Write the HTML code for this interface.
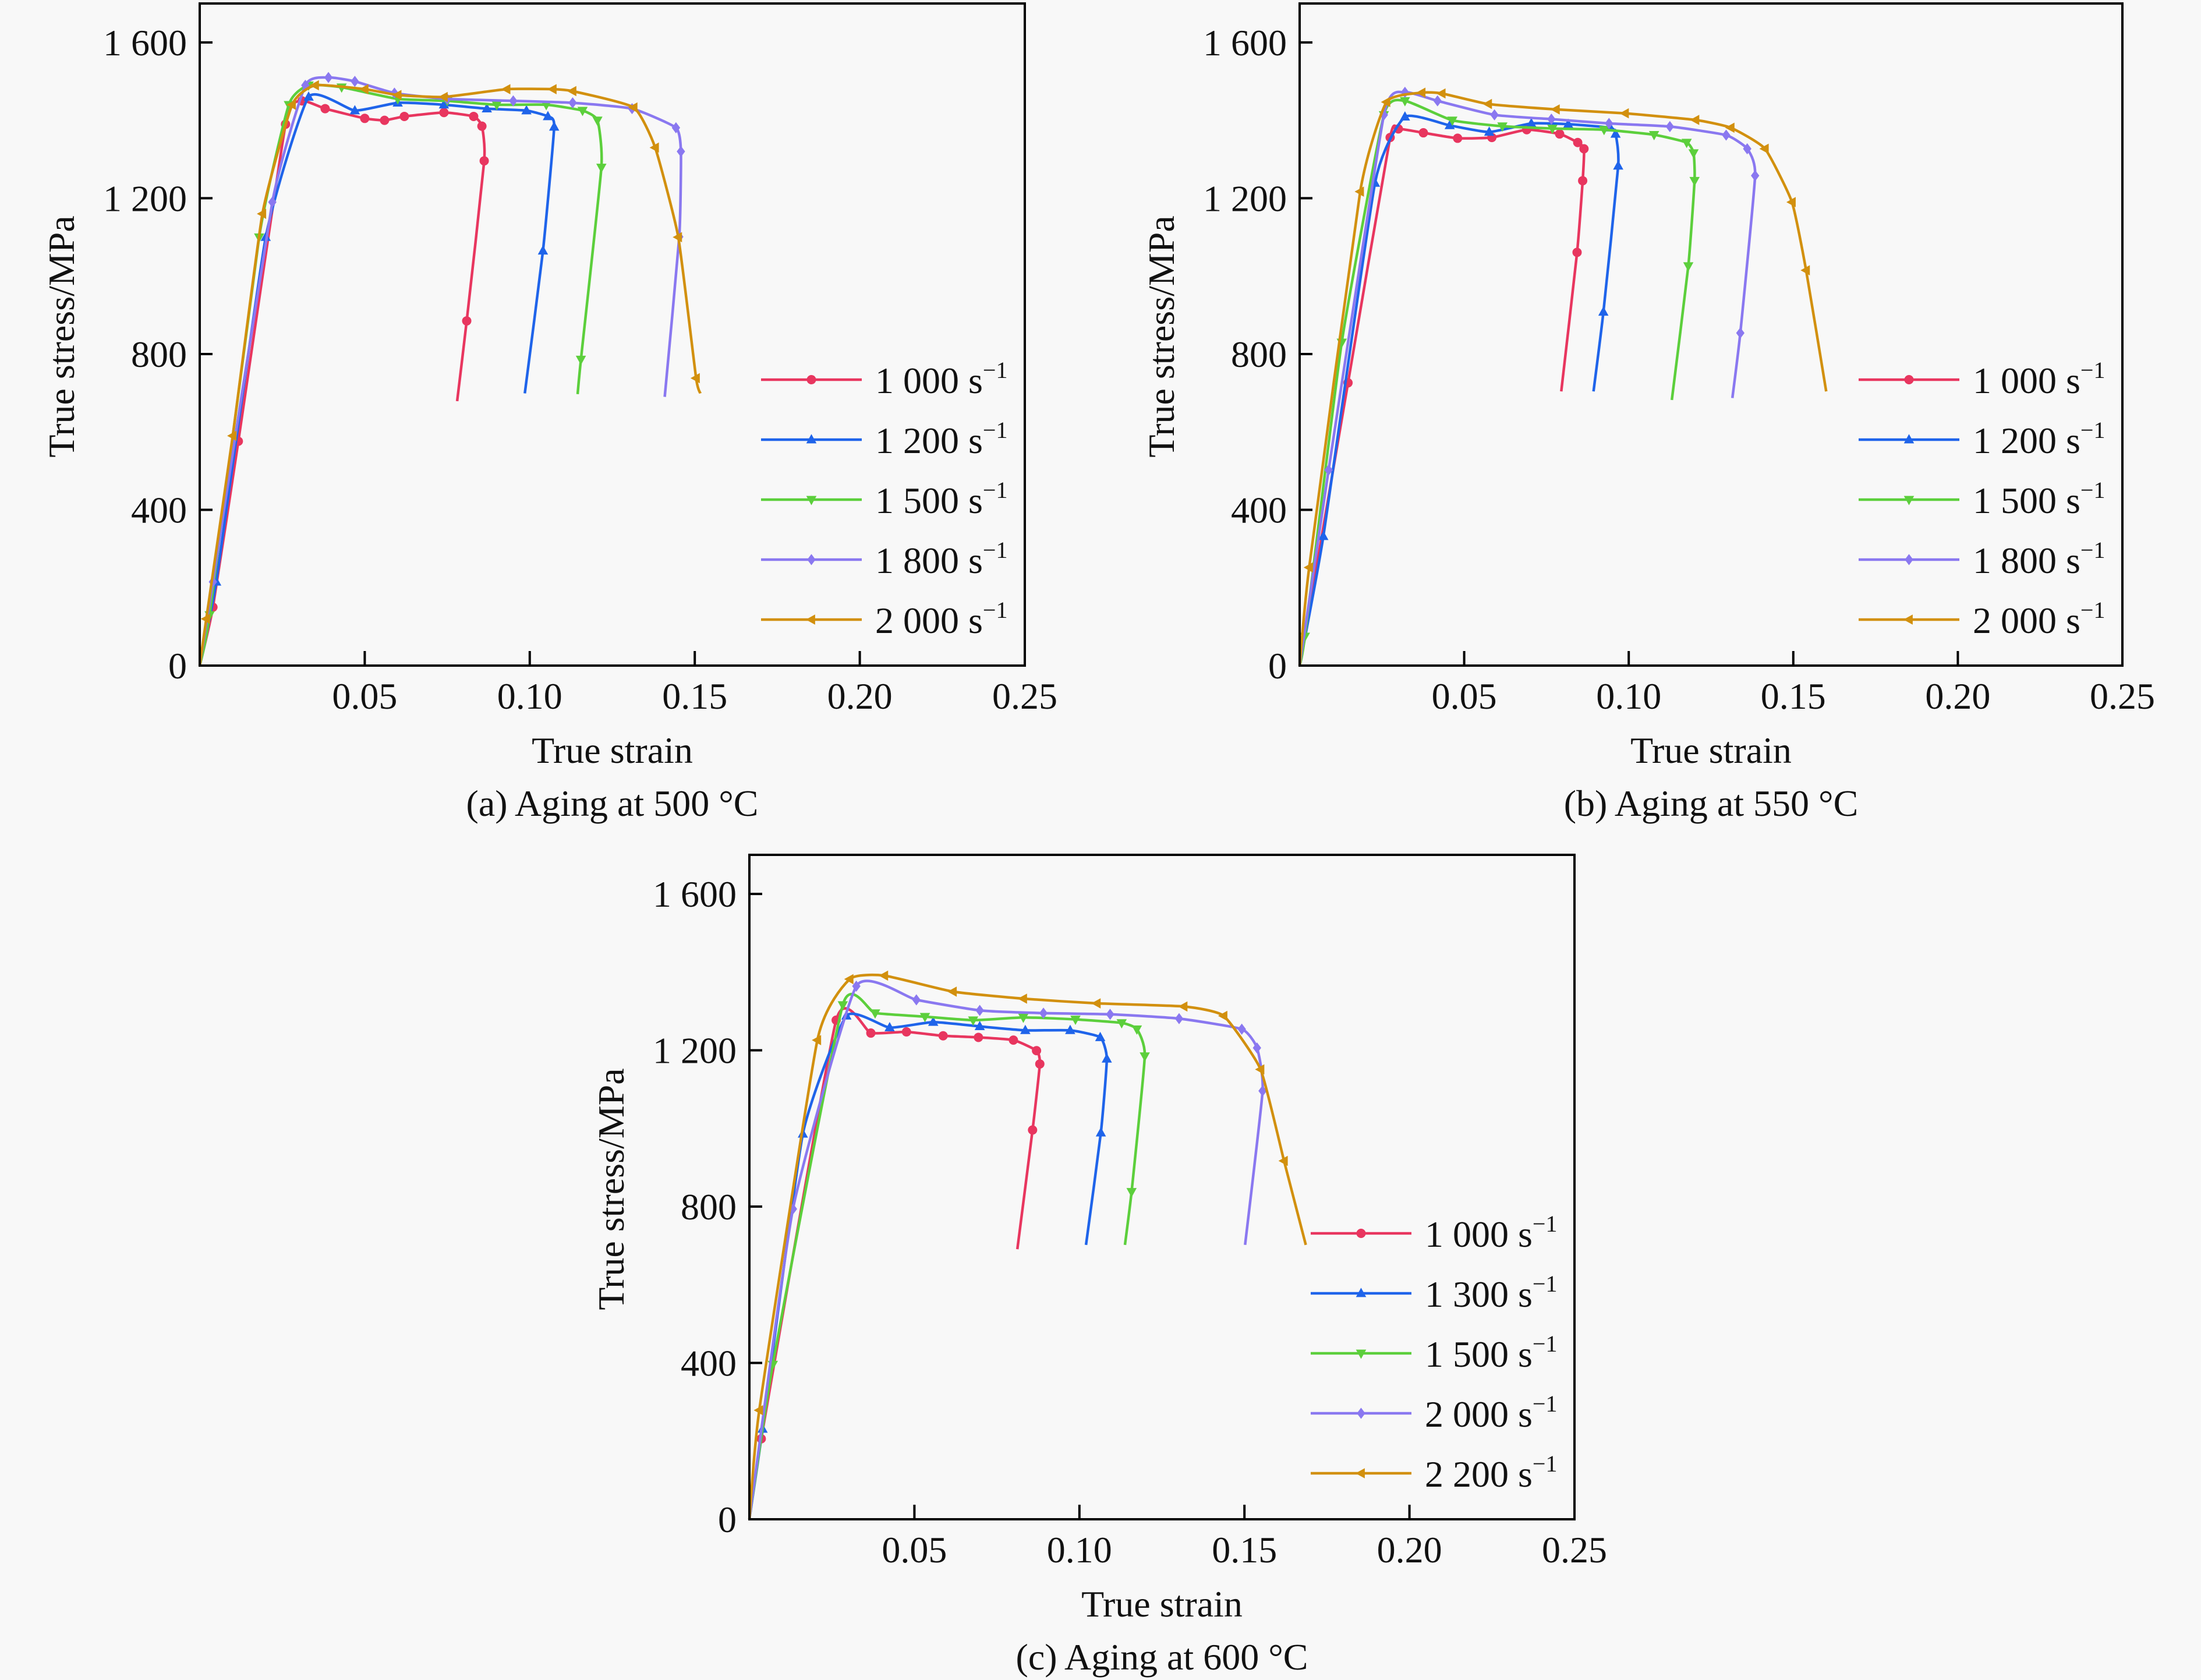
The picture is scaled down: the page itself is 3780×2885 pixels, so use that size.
<!DOCTYPE html>
<html><head><meta charset="utf-8">
<style>
html,body{margin:0;padding:0;background:#f8f8f8;}
svg{display:block;font-family:"Liberation Serif","DejaVu Serif",serif;}
</style></head>
<body>
<svg id="fig" width="3780" height="2885" viewBox="0 0 3780 2885" xmlns="http://www.w3.org/2000/svg">
<rect width="3780" height="2885" fill="#f8f8f8"/>
</svg>
<script>
// shared axis data
const xTicks = [0.05, 0.10, 0.15, 0.20, 0.25];
const xTickLabels = ["0.05", "0.10", "0.15", "0.20", "0.25"];
const yTicks = [0, 400, 800, 1200, 1600];
const yTickLabels = ["0", "400", "800", "1 200", "1 600"];

// Panel (a) Aging at 500 °C
const aRates = ["1 000", "1 200", "1 500", "1 800", "2 000"];
const aStrain1000 = [0, 0.004, 0.0117, 0.026, 0.031, 0.038, 0.050, 0.056, 0.062, 0.074, 0.083, 0.0855, 0.0862, 0.0809, 0.078];
const aStress1000 = [0, 150, 576, 1390, 1450, 1430, 1405, 1400, 1410, 1420, 1410, 1385, 1296, 885, 679];
const aStrain1200 = [0, 0.005, 0.020, 0.033, 0.047, 0.060, 0.074, 0.087, 0.099, 0.1055, 0.1074, 0.104, 0.0985];
const aStress1200 = [0, 215, 1100, 1460, 1425, 1445, 1440, 1430, 1425, 1410, 1383, 1065, 699];
const aStrain1500 = [0, 0.003, 0.018, 0.027, 0.033, 0.043, 0.060, 0.075, 0.090, 0.105, 0.116, 0.1205, 0.1217, 0.1155, 0.1145];
const aStress1500 = [0, 130, 1100, 1440, 1490, 1485, 1455, 1450, 1440, 1440, 1425, 1400, 1279, 786, 697];
const aStrain1800 = [0, 0.004, 0.022, 0.032, 0.039, 0.047, 0.059, 0.075, 0.095, 0.113, 0.131, 0.1443, 0.1458, 0.1453, 0.1409];
const aStress1800 = [0, 215, 1190, 1490, 1510, 1500, 1470, 1455, 1450, 1445, 1430, 1381, 1320, 1101, 690];
const aStrain2000 = [0, 0.002, 0.010, 0.019, 0.028, 0.035, 0.050, 0.060, 0.074, 0.093, 0.107, 0.113, 0.1315, 0.138, 0.145, 0.1504, 0.1517];
const aStress2000 = [0, 120, 590, 1160, 1440, 1490, 1480, 1465, 1460, 1480, 1480, 1475, 1433, 1330, 1100, 738, 699];

// Panel (b) Aging at 550 °C
const bRates = ["1 000", "1 200", "1 500", "1 800", "2 000"];
const bStrain1000 = [0, 0.0147, 0.0275, 0.030, 0.0376, 0.048, 0.0584, 0.069, 0.079, 0.0845, 0.0864, 0.086, 0.0843, 0.0795];
const bStress1000 = [0, 726, 1356, 1378, 1368, 1354, 1356, 1376, 1365, 1343, 1327, 1245, 1061, 704];
const bStrain1200 = [0, 0.0072, 0.0229, 0.032, 0.0456, 0.0576, 0.0704, 0.0816, 0.0944, 0.096, 0.0968, 0.0923, 0.0893];
const bStress1200 = [0, 332, 1239, 1409, 1387, 1370, 1392, 1390, 1381, 1365, 1283, 908, 704];
const bStrain1500 = [0, 0.0016, 0.0128, 0.0256, 0.032, 0.0464, 0.0616, 0.0768, 0.0925, 0.1077, 0.1176, 0.1197, 0.120, 0.1181, 0.1131];
const bStress1500 = [0, 75, 830, 1414, 1450, 1400, 1385, 1379, 1376, 1363, 1343, 1316, 1245, 1026, 682];
const bStrain1800 = [0, 0.0088, 0.0256, 0.032, 0.0419, 0.0592, 0.0765, 0.094, 0.1125, 0.1296, 0.136, 0.1384, 0.1339, 0.1315];
const bStress1800 = [0, 502, 1414, 1472, 1450, 1414, 1403, 1392, 1384, 1362, 1327, 1258, 854, 687];
const bStrain2000 = [0, 0.0029, 0.0184, 0.0264, 0.0371, 0.0432, 0.0573, 0.0779, 0.0989, 0.1203, 0.131, 0.1414, 0.1496, 0.1539, 0.160];
const bStress2000 = [0, 252, 1217, 1447, 1471, 1469, 1442, 1428, 1418, 1401, 1381, 1327, 1190, 1015, 704];

// Panel (c) Aging at 600 °C
const cRates = ["1 000", "1 300", "1 500", "2 000", "2 200"];
const cStrain1000 = [0, 0.0036, 0.0263, 0.0368, 0.0476, 0.0587, 0.0694, 0.080, 0.087, 0.088, 0.0858, 0.0812];
const cStress1000 = [0, 206, 1277, 1244, 1247, 1237, 1233, 1226, 1199, 1165, 996, 691];
const cStrain1300 = [0, 0.004, 0.0162, 0.0294, 0.0425, 0.0557, 0.0698, 0.0836, 0.0972, 0.1063, 0.1083, 0.1065, 0.102];
const cStress1300 = [0, 231, 986, 1288, 1258, 1272, 1261, 1251, 1251, 1233, 1178, 989, 702];
const cStrain1500 = [0, 0.0071, 0.0283, 0.0381, 0.0532, 0.0678, 0.083, 0.0988, 0.1128, 0.1174, 0.1198, 0.1158, 0.1138];
const cStress1500 = [0, 396, 1316, 1295, 1286, 1277, 1284, 1279, 1270, 1254, 1185, 838, 702];
const cStrain2000 = [0, 0.0132, 0.0324, 0.0506, 0.0698, 0.0891, 0.1093, 0.1302, 0.1492, 0.1538, 0.1555, 0.1502];
const cStress2000 = [0, 794, 1364, 1329, 1302, 1295, 1292, 1281, 1254, 1206, 1096, 702];
const cStrain2200 = [0, 0.003, 0.0206, 0.0304, 0.0409, 0.0617, 0.083, 0.1053, 0.1316, 0.1437, 0.1549, 0.162, 0.1686];
const cStress2200 = [0, 279, 1226, 1382, 1391, 1350, 1332, 1320, 1312, 1288, 1151, 917, 702];

const colors = ["#e8365f", "#1f64ea", "#5ccf3c", "#8a78f0", "#d2900e"];
const markerKinds = ["circle", "up", "down", "diamond", "left"];

const NS = "http://www.w3.org/2000/svg";
const svg = document.getElementById("fig");
function mk(tag, attrs, parent) {
  const e = document.createElementNS(NS, tag);
  for (const k in attrs) e.setAttribute(k, attrs[k]);
  (parent || svg).appendChild(e);
  return e;
}
function smoothPath(pts) {
  let d = "M" + pts[0][0].toFixed(1) + "," + pts[0][1].toFixed(1);
  for (let i = 0; i < pts.length - 1; i++) {
    const p0 = pts[i - 1] || pts[i], p1 = pts[i], p2 = pts[i + 1], p3 = pts[i + 2] || p2;
    const t = 0.08;
    const c1 = [p1[0] + (p2[0] - p0[0]) * t, p1[1] + (p2[1] - p0[1]) * t];
    const c2 = [p2[0] - (p3[0] - p1[0]) * t, p2[1] - (p3[1] - p1[1]) * t];
    d += " C" + c1[0].toFixed(1) + "," + c1[1].toFixed(1) + " " + c2[0].toFixed(1) + "," + c2[1].toFixed(1) + " " + p2[0].toFixed(1) + "," + p2[1].toFixed(1);
  }
  return d;
}
function marker(kind, x, y, color, parent) {
  const r = 8;
  let el;
  if (kind === "circle") el = mk("circle", {cx: x, cy: y, r: r, fill: color}, parent);
  else {
    let p;
    if (kind === "up") p = [[x, y - r * 1.2], [x + r * 1.1, y + r * 0.8], [x - r * 1.1, y + r * 0.8]];
    else if (kind === "down") p = [[x, y + r * 1.2], [x + r * 1.1, y - r * 0.8], [x - r * 1.1, y - r * 0.8]];
    else if (kind === "diamond") p = [[x, y - r * 1.2], [x + r * 0.9, y], [x, y + r * 1.2], [x - r * 0.9, y]];
    else p = [[x - r * 1.2, y], [x + r * 0.8, y - r * 1.1], [x + r * 0.8, y + r * 1.1]];
    el = mk("polygon", {points: p.map(q => q.join(",")).join(" "), fill: color}, parent);
  }
  return el;
}

function panel(id, L, T, R, B, caption, rates, strains, stresses) {
  const g = mk("g", {});
  
  
  const xmax = 0.25, ymax = 1700;
  const sx = v => L + v / xmax * (R - L);
  const sy = v => B - v / ymax * (B - T);
  const fs = 64;
  xTicks.forEach((v, i) => {
    const t = mk("line", {x1: sx(v), x2: sx(v), y1: B, y2: B - 25, stroke: "#000", "stroke-width": 4}, g);
    
    
    const lb = mk("text", {x: sx(v), y: B + 74, "font-size": fs, "text-anchor": "middle", fill: "#111"}, g);
    
    
    lb.textContent = xTickLabels[i];
  });
  yTicks.forEach((v, i) => {
    const t = mk("line", {x1: L, x2: L + 22, y1: sy(v), y2: sy(v), stroke: "#000", "stroke-width": 4}, g);
    
    
    const lb = mk("text", {x: L - 22, y: sy(v) + 22, "font-size": fs, "text-anchor": "end", fill: "#111"}, g);
    
    
    lb.textContent = yTickLabels[i];
  });
  strains.forEach((xs, si) => {
    const ys = stresses[si];
    const pts = xs.map((x, k) => [sx(x), sy(ys[k])]);
    const sg = mk("g", {}, g);
    
    
    const p = mk("path", {d: smoothPath(pts), fill: "none", stroke: colors[si], "stroke-width": 4.5, "stroke-linejoin": "round"}, sg);
    
    
    pts.forEach((q, k) => {
      if (k === 0 || k === pts.length - 1) return;
      const m = marker(markerKinds[si], q[0], q[1], colors[si], sg);
      
      
    });
  });
  const fr = mk("rect", {x: L, y: T, width: R - L, height: B - T, fill: "none", stroke: "#000", "stroke-width": 4}, g);
  
  
  rates.forEach((r, i) => {
    const y = B - 491 + i * 103;
    const x1 = R - 453, x2 = R - 280;
    const lg = mk("g", {}, g);
    
    
    mk("line", {x1: x1, x2: x2, y1: y, y2: y, stroke: colors[i], "stroke-width": 4.5}, lg);
    marker(markerKinds[i], (x1 + x2) / 2, y, colors[i], lg);
    const tx = mk("text", {x: R - 257, y: y + 23, "font-size": 64, fill: "#111"}, lg);
    tx.textContent = r + " s";
    const sup = mk("tspan", {dy: -26, "font-size": 40}, tx);
    sup.textContent = "\u22121";
  });
  const xt = mk("text", {x: (L + R) / 2, y: B + 167, "font-size": 64, "text-anchor": "middle", fill: "#111"}, g);
  
  
  xt.textContent = "True strain";
  const yt = mk("text", {x: 0, y: 0, "font-size": 64, "text-anchor": "middle", fill: "#111", transform: "translate(" + (L - 216) + "," + (sy(800) - 30) + ") rotate(-90)"}, g);
  
  
  yt.textContent = "True stress/MPa";
  const cp = mk("text", {x: (L + R) / 2, y: B + 258, "font-size": 64, "text-anchor": "middle", fill: "#111"}, g);
  
  
  cp.textContent = caption;
}

panel("a", 343, 6, 1760, 1143, "(a) Aging at 500 \u00B0C", aRates,
  [aStrain1000, aStrain1200, aStrain1500, aStrain1800, aStrain2000],
  [aStress1000, aStress1200, aStress1500, aStress1800, aStress2000]);
panel("b", 2232, 6, 3645, 1143, "(b) Aging at 550 \u00B0C", bRates,
  [bStrain1000, bStrain1200, bStrain1500, bStrain1800, bStrain2000],
  [bStress1000, bStress1200, bStress1500, bStress1800, bStress2000]);
panel("c", 1287, 1468, 2704, 2609, "(c) Aging at 600 \u00B0C", cRates,
  [cStrain1000, cStrain1300, cStrain1500, cStrain2000, cStrain2200],
  [cStress1000, cStress1300, cStress1500, cStress2000, cStress2200]);
</script>
</body></html>
